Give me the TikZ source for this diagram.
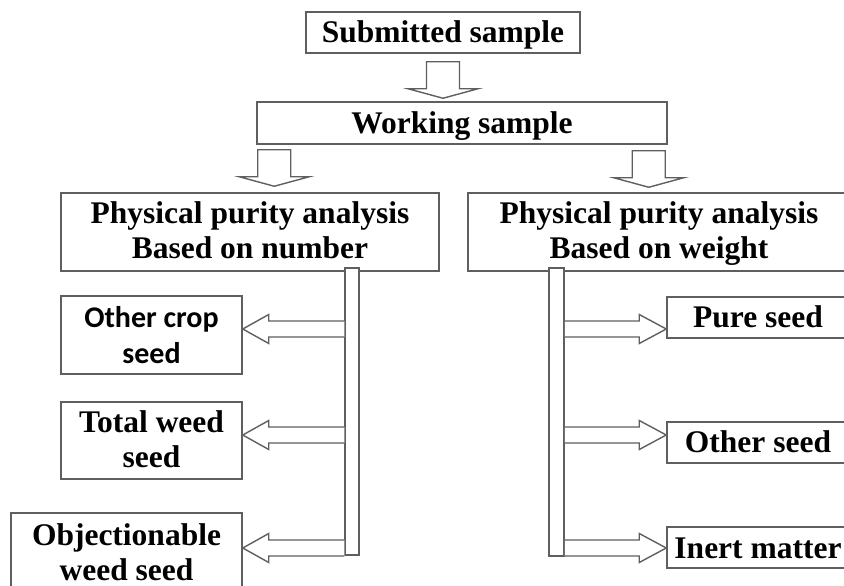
\documentclass[tikz,border=0pt]{standalone}
\usepackage{fontspec}
\setmainfont{Liberation Serif}
\newfontfamily\calibfont{Carlito}
\usetikzlibrary{calc}
\definecolor{edge}{RGB}{95,95,95}
\tikzset{
  box/.style={draw=edge, line width=1.5pt, inner sep=0pt},
  lbl/.style={font=\bfseries\fontsize{31.5}{35}\selectfont, align=center, anchor=base, inner sep=0pt},
  blk/.style={draw=edge, line width=1.4pt, fill=white, line join=miter},
}
% hollow block arrows: down (top point, tip), left and right (bar, box, row)
\newcommand\blkdown[2]{%
  \draw[blk] ($(#1)+(-16.5,0)$) -- ($(#2)+(-16.5,-9.5)$) -- ($(#2)+(-35,-9.5)$) -- (#2)
    -- ($(#2)+(35,-9.5)$) -- ($(#2)+(16.5,-9.5)$) -- ($(#1)+(16.5,0)$) -- cycle;}
\newcommand\blkleft[3]{%
  \draw[blk] ($(#1.west|-#3)+(0,-8)$) -- ($(#2.east|-#3)+(26,-8)$) -- ($(#2.east|-#3)+(26,-14.5)$)
    -- (#2.east|-#3) -- ($(#2.east|-#3)+(26,14.5)$) -- ($(#2.east|-#3)+(26,8)$) -- ($(#1.west|-#3)+(0,8)$);}
\newcommand\blkright[3]{%
  \draw[blk] ($(#1.east|-#3)+(0,-8)$) -- ($(#2.west|-#3)+(-27,-8)$) -- ($(#2.west|-#3)+(-27,-14.5)$)
    -- (#2.west|-#3) -- ($(#2.west|-#3)+(-27,14.5)$) -- ($(#2.west|-#3)+(-27,8)$) -- ($(#1.east|-#3)+(0,8)$);}
\begin{document}
\begin{tikzpicture}[x=1pt, y=-1pt]
\useasboundingbox (0,0) rectangle (844,586);
\clip (0,0) rectangle (844,586);

% boxes
\node[box, minimum width=274, minimum height=41] (sub) at (443,32.5) {};
\node[box, minimum width=410, minimum height=42] (work) at (462,123) {};
\node[box, minimum width=378, minimum height=78] (lppa) at (250,232) {};
\node[box, minimum width=382, minimum height=78] (rppa) at (659,232) {};
\node[box, minimum width=181, minimum height=78] (ocs) at (151.5,335) {};
\node[box, minimum width=181, minimum height=77] (tws) at (151.5,440.5) {};
\node[box, minimum width=231, minimum height=78] (ows) at (126.5,552) {};
\node[box, minimum width=182, minimum height=41] (pure) at (758,317.5) {};
\node[box, minimum width=182, minimum height=41] (oth) at (758,442.5) {};
\node[box, minimum width=182, minimum height=41] (inert) at (758,547.5) {};

% vertical distribution bars
\node[box, fill=white, minimum width=14, minimum height=287] (lbar) at (352,411.5) {};
\node[box, fill=white, minimum width=15, minimum height=288] (rbar) at (556.5,412) {};

% labels (two-line labels sit on the baseline of their last line)
\node[lbl] (tsub) at (443,43) {Submitted sample};
\node[lbl] (twork) at (462,133) {Working sample};
\node[lbl] (tlppa) at (250,258) {Physical purity analysis\\Based on number};
\node[lbl] (trppa) at (659,258) {Physical purity analysis\\Based on weight};
\node[lbl, font=\calibfont\bfseries\fontsize{30}{36}\selectfont] (tocs) at (151.5,363) {Other crop\\seed};
\node[lbl] (ttws) at (151.5,467) {Total weed\\seed};
\node[lbl] (tows) at (126.5,580) {Objectionable\\weed seed};
\node[lbl] (tpure) at (758,327) {Pure seed};
\node[lbl] (toth) at (758,452) {Other seed};
\node[lbl] (tinert) at (758,558) {Inert matter};

% down arrows
\coordinate (d1t) at ($(sub.south)+(0,8)$);
\coordinate (d1p) at ($(sub.south|-work.north)+(0,-3)$);
\coordinate (d2t) at ($(work.south west)+(18,5)$);
\coordinate (d2p) at ($(d2t|-lppa.north)+(0,-6)$);
\coordinate (d3t) at ($(work.south east)+(-19,6)$);
\coordinate (d3p) at ($(d3t|-rppa.north)+(0,-5)$);
\blkdown{d1t}{d1p}
\blkdown{d2t}{d2p}
\blkdown{d3t}{d3p}

% rows of the side arrows
\coordinate (r1) at (0,329);
\coordinate (r2) at (0,435);
\coordinate (r3) at (0,548);
\blkleft{lbar}{ocs}{r1}
\blkleft{lbar}{tws}{r2}
\blkleft{lbar}{ows}{r3}
\blkright{rbar}{pure}{r1}
\blkright{rbar}{oth}{r2}
\blkright{rbar}{inert}{r3}
\end{tikzpicture}
\end{document}
